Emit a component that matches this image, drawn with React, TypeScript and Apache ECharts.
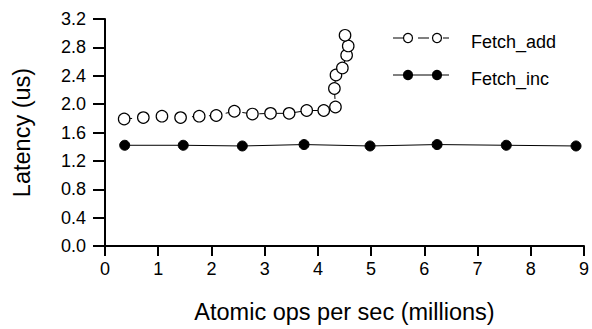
import React, { useEffect, useRef } from "react";
import * as echarts from "echarts";

const addX = [0.36, 0.72, 1.07, 1.42, 1.77, 2.09, 2.43, 2.77, 3.11, 3.46, 3.79, 4.11, 4.33, 4.31, 4.34, 4.46, 4.54, 4.57, 4.51];
const addY = [1.79, 1.81, 1.83, 1.81, 1.83, 1.84, 1.9, 1.86, 1.87, 1.87, 1.91, 1.91, 1.96, 2.22, 2.41, 2.51, 2.69, 2.82, 2.97];
const incX = [0.37, 1.47, 2.58, 3.74, 4.98, 6.24, 7.54, 8.85];
const incY = [1.42, 1.42, 1.41, 1.43, 1.41, 1.43, 1.42, 1.41];
const seriesNames = ["Fetch_add", "Fetch_inc"];

const FONT = "Liberation Sans, Arial, sans-serif";

export default function App() {
  const ref = useRef<HTMLDivElement>(null);
  useEffect(() => {
    if (!ref.current) return;
    const chart = echarts.init(ref.current, null, { renderer: "svg" });
    const lx1 = 393, lx2 = 449, m1 = 408, m2 = 437;
    const legendRow = (y: number, filled: boolean, name: string, dashed: boolean) => [
      {
        type: "line",
        shape: { x1: lx1, y1: y, x2: lx2, y2: y },
        style: { stroke: "#000", lineWidth: 1, lineDash: dashed ? [11, 14] : null },
        z: 10,
      },
      { type: "circle", shape: { cx: m1, cy: y, r: 4.5 }, style: { fill: filled ? "#000" : "#fff", stroke: "#000", lineWidth: 1.2 }, z: 11 },
      { type: "circle", shape: { cx: m2, cy: y, r: 4.5 }, style: { fill: filled ? "#000" : "#fff", stroke: "#000", lineWidth: 1.2 }, z: 11 },
      {
        type: "text",
        x: 471,
        y: y + 4,
        style: { text: name, fill: "#000", font: `18px ${FONT}`, textVerticalAlign: "middle" },
        z: 11,
      },
    ];
    chart.setOption({
      animation: false,
      backgroundColor: "#fff",
      grid: { left: 105, right: 7, top: 19, bottom: 81, containLabel: false },
      xAxis: {
        type: "value",
        min: 0,
        max: 9,
        interval: 1,
        name: "Atomic ops per sec (millions)",
        nameLocation: "middle",
        nameGap: 54,
        nameTextStyle: { fontFamily: FONT, fontSize: 23.5, color: "#000" },
        axisLine: { lineStyle: { color: "#000", width: 2 } },
        axisTick: { length: 10, lineStyle: { color: "#000", width: 2 } },
        axisLabel: { fontFamily: FONT, fontSize: 18, color: "#000", margin: 14 },
        splitLine: { show: false },
      },
      yAxis: {
        type: "value",
        min: 0,
        max: 3.2,
        interval: 0.4,
        name: "Latency (us)",
        nameLocation: "middle",
        nameGap: 71,
        nameTextStyle: { fontFamily: FONT, fontSize: 23.5, color: "#000" },
        axisLine: { show: true, lineStyle: { color: "#000", width: 2 } },
        axisTick: { show: true, length: 12, lineStyle: { color: "#000", width: 2 } },
        axisLabel: { fontFamily: FONT, fontSize: 18, color: "#000", margin: 19, formatter: (v: number) => v.toFixed(1) },
        splitLine: { show: false },
      },
      series: [
        {
          name: seriesNames[0],
          type: "line",
          data: addX.map((x, i) => [x, addY[i]]),
          symbol: "circle",
          symbolSize: 11.5,
          itemStyle: { color: "#fff", borderColor: "#000", borderWidth: 1.2 },
          lineStyle: { color: "#000", width: 1, type: [8, 9] },
          z: 3,
        },
        {
          name: seriesNames[1],
          type: "line",
          data: incX.map((x, i) => [x, incY[i]]),
          symbol: "circle",
          symbolSize: 10,
          itemStyle: { color: "#000", borderColor: "#000", borderWidth: 1 },
          lineStyle: { color: "#000", width: 1 },
          z: 2,
        },
      ],
      graphic: [...legendRow(38, false, seriesNames[0], true), ...legendRow(75, true, seriesNames[1], false)],
    });
    return () => chart.dispose();
  }, []);
  return <div ref={ref} style={{ position: "absolute", left: 0, top: 0, width: 592, height: 329 }} />;
}
